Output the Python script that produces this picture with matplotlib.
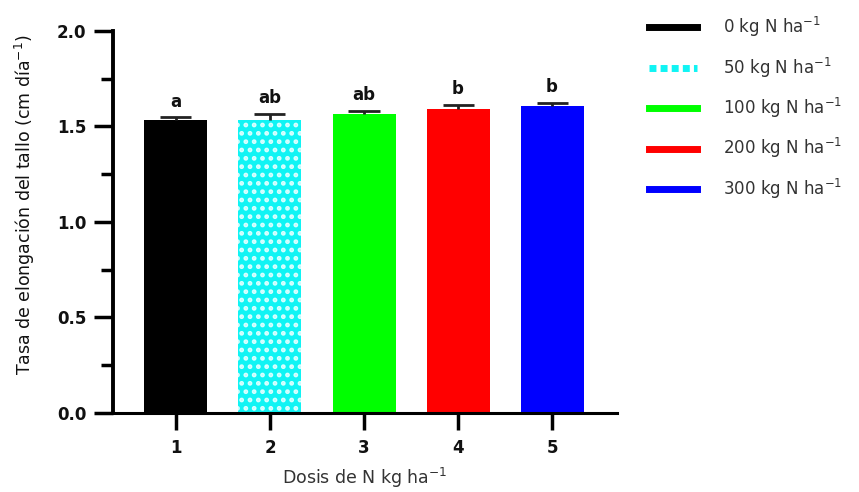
import matplotlib
matplotlib.use("Agg")
import matplotlib.pyplot as plt
from matplotlib.lines import Line2D
from matplotlib.ticker import MultipleLocator

plt.rcParams['font.family'] = ['DejaVu Sans']
plt.rcParams['hatch.linewidth'] = 2.2

# data
doses = [1, 2, 3, 4, 5]
means = [1.533, 1.536, 1.567, 1.590, 1.608]
errs = [0.015, 0.030, 0.015, 0.025, 0.017]
letters = ["a", "ab", "ab", "b", "b"]
labels = ["0 kg N ha$^{-1}$", "50 kg N ha$^{-1}$", "100 kg N ha$^{-1}$",
          "200 kg N ha$^{-1}$", "300 kg N ha$^{-1}$"]
colors = ["#000000", "#10F4F4", "#00FF00", "#FF0000", "#0000FF"]

fig = plt.figure(figsize=(8.59, 4.92), dpi=100)
ax = fig.add_axes([0.1315, 0.1606, 0.5867, 0.7764])

for i in range(len(doses)):
    if i == 1:
        # cyan bar with a soft white dot pattern
        ax.bar(doses[i], means[i], width=0.67, color=colors[i],
               edgecolor="#D8FFFF", hatch="..", linewidth=0, zorder=2)
    else:
        ax.bar(doses[i], means[i], width=0.67, color=colors[i], zorder=2)

# upper error bars only
tops = [m + e for m, e in zip(means, errs)]
ax.vlines(doses, means, tops, color="#222222", lw=2, zorder=3)
ax.hlines(tops, [d - 0.165 for d in doses], [d + 0.165 for d in doses],
          color="#222222", lw=2, zorder=3)

for i in range(len(doses)):
    ax.text(doses[i], tops[i] + 0.035, letters[i], ha="center",
            va="bottom", fontsize=12, fontweight="bold", color="#111111")

ax.set_xlim(0.33, 5.69)
ax.set_ylim(0, 2.0)
ax.yaxis.set_major_locator(MultipleLocator(0.5))
ax.yaxis.set_minor_locator(MultipleLocator(0.25))
ax.set_xticks(doses)
ax.set_xticklabels([str(d) for d in doses])
for lab in ax.get_xticklabels() + ax.get_yticklabels():
    lab.set_fontweight("bold")
    lab.set_fontsize(12)
    lab.set_color("#111111")

ax.spines["top"].set_visible(False)
ax.spines["right"].set_visible(False)
ax.spines["left"].set_linewidth(2.8)
ax.spines["bottom"].set_linewidth(2.2)
ax.tick_params(axis="y", which="major", length=14, width=2.5, pad=5)
ax.tick_params(axis="x", which="major", length=12, width=2.5, pad=7)
ax.tick_params(axis="y", which="minor", length=9, width=2.5)

ax.set_ylabel("Tasa de elongación del tallo (cm día$^{-1}$)", fontsize=12.5,
              color="#111111")
ax.yaxis.set_label_coords(-0.15, 0.545)
ax.set_xlabel("Dosis de N kg ha$^{-1}$", fontsize=12.5, color="#333333",
              labelpad=6)

handles = []
for i in range(len(doses)):
    ls = (0, (1, 0.6)) if i == 1 else "-"
    handles.append(Line2D([0], [0], color=colors[i], lw=5, ls=ls))
fig.legend(handles, labels, loc="upper left", bbox_to_anchor=(0.738, 1.0),
           frameon=False, fontsize=12, handlelength=2.9,
           handletextpad=1.55, labelspacing=0.98, labelcolor="#333333")

fig.savefig("out.png", dpi=100)
